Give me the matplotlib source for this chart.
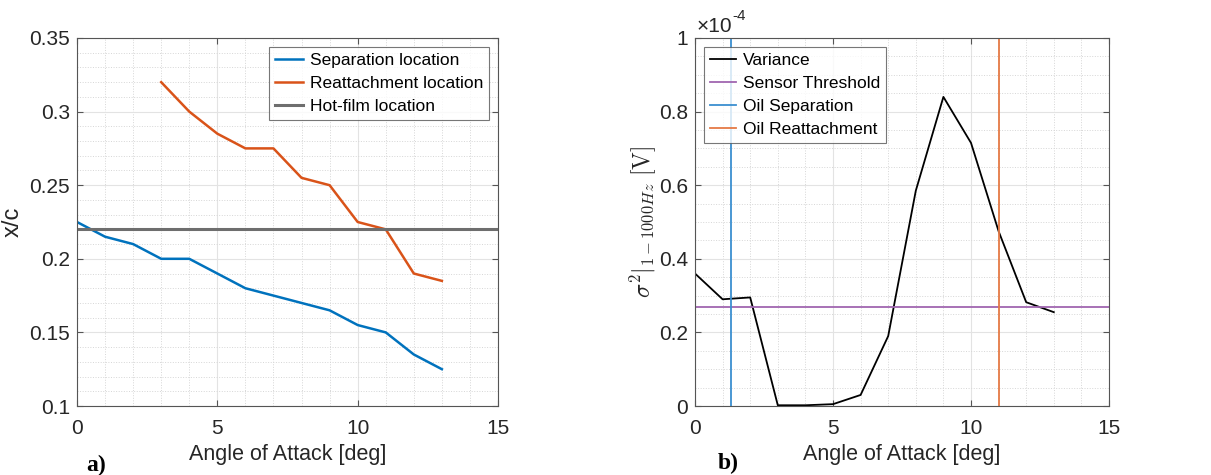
import matplotlib.pyplot as plt
from matplotlib.ticker import MultipleLocator

# --- data ---
aoa = [0, 1, 2, 3, 4, 5, 6, 7, 8, 9, 10, 11, 12, 13]
sep_loc = [0.225, 0.215, 0.21, 0.2, 0.2, 0.19, 0.18, 0.175, 0.17, 0.165, 0.155, 0.15, 0.135, 0.125]
aoa_reatt = [3, 4, 5, 6, 7, 8, 9, 10, 11, 12, 13]
reatt_loc = [0.32, 0.30, 0.285, 0.275, 0.275, 0.255, 0.25, 0.225, 0.22, 0.19, 0.185]
hotfilm_loc = 0.22

variance = [0.36, 0.29, 0.295, 0.002, 0.002, 0.005, 0.03, 0.19, 0.585, 0.84, 0.715, 0.475, 0.282, 0.255]  # x1e-4
threshold = 0.268
oil_sep = 1.3
oil_reatt = 11

sans = ['Liberation Sans', 'DejaVu Sans']
serif = ['Liberation Serif', 'DejaVu Serif']
plt.rcParams['font.family'] = sans
plt.rcParams['mathtext.fontset'] = 'cm'
txt = '#262626'

fig = plt.figure(figsize=(12.11, 4.75), dpi=100)
ax1 = fig.add_axes([77/1211, 1-406/475, 421/1211, 368/475])
ax2 = fig.add_axes([695/1211, 1-406/475, 414/1211, 368/475])


def style(ax):
    ax.set_xlim(0, 15)
    ax.xaxis.set_major_locator(MultipleLocator(5))
    ax.xaxis.set_minor_locator(MultipleLocator(1))
    ax.grid(which='major', color='#e3e3e3', linewidth=0.8)
    ax.grid(which='minor', color='#d6d6d6', linestyle=':', linewidth=0.7)
    ax.set_axisbelow(True)
    ax.tick_params(which='both', direction='in', top=True, right=True,
                   colors='#555555', labelcolor=txt, labelsize=15)
    ax.tick_params(which='major', length=4)
    ax.tick_params(which='minor', length=0)
    ax.tick_params(axis='x', pad=9)
    ax.tick_params(axis='y', pad=5)
    for s in ax.spines.values():
        s.set_color('#555555')
        s.set_linewidth(0.8)
    ax.set_xlabel('Angle of Attack [deg]', fontsize=15.5, color=txt, labelpad=5)


def legend_box(leg):
    leg.get_frame().set_edgecolor('#555555')
    leg.get_frame().set_linewidth(0.8)


# --- a) ---
ax1.plot(aoa, sep_loc, color='#0072BD', lw=1.8, label='Separation location')
ax1.plot(aoa_reatt, reatt_loc, color='#D95319', lw=1.8, label='Reattachment location')
ax1.axhline(hotfilm_loc, color='#6e6e6e', lw=2.2, label='Hot-film location')
style(ax1)
ax1.set_ylim(0.1, 0.35)
ax1.yaxis.set_major_locator(MultipleLocator(0.05))
ax1.yaxis.set_minor_locator(MultipleLocator(0.01))
ax1.set_yticklabels([f'{v:g}' for v in ax1.get_yticks()])
ax1.set_ylabel('x/c', fontsize=17, color=txt, labelpad=4)
leg1 = ax1.legend(loc='upper right', fontsize=12.5, handlelength=1.6, handletextpad=0.4,
                  borderaxespad=0.5, borderpad=0.35, labelspacing=0.45, fancybox=False)
legend_box(leg1)

# --- b) ---
ax2.plot(aoa, variance, color='black', lw=1.3, label='Variance')
ax2.axhline(threshold, color='#A066B0', lw=1.3, label='Sensor Threshold')
ax2.axvline(oil_sep, color='#3A8FD0', lw=1.3, label='Oil Separation')
ax2.axvline(oil_reatt, color='#E57A45', lw=1.3, label='Oil Reattachment')
style(ax2)
ax2.set_ylim(0, 1)
ax2.yaxis.set_major_locator(MultipleLocator(0.2))
ax2.yaxis.set_minor_locator(MultipleLocator(0.05))
ax2.set_yticklabels([f'{v:g}' for v in ax2.get_yticks()])
ax2.set_ylabel(r'$\sigma^2|_{1-1000Hz}\ [\mathrm{V}]$', fontsize=17, color=txt, labelpad=1)
# exponent label above the y axis
ax2.text(697/1211, 1-26/475, '×10', transform=fig.transFigure, fontsize=15,
         color=txt, ha='left', va='center', family=sans)
ax2.text(732/1211, 1-16/475, '-4', transform=fig.transFigure, fontsize=11,
         color=txt, ha='left', va='center', family=sans)
leg2 = ax2.legend(loc='upper left', fontsize=12.5, handlelength=1.5, handletextpad=0.4,
                  borderaxespad=0.5, borderpad=0.35, labelspacing=0.45, fancybox=False)
legend_box(leg2)

fig.text(86/1211, 1-465/475, 'a)', fontsize=17, fontweight='bold', family=serif, va='center')
fig.text(718/1211, 1-463/475, 'b)', fontsize=17, fontweight='bold', family=serif, va='center')

fig.savefig('out.png', dpi=100)
